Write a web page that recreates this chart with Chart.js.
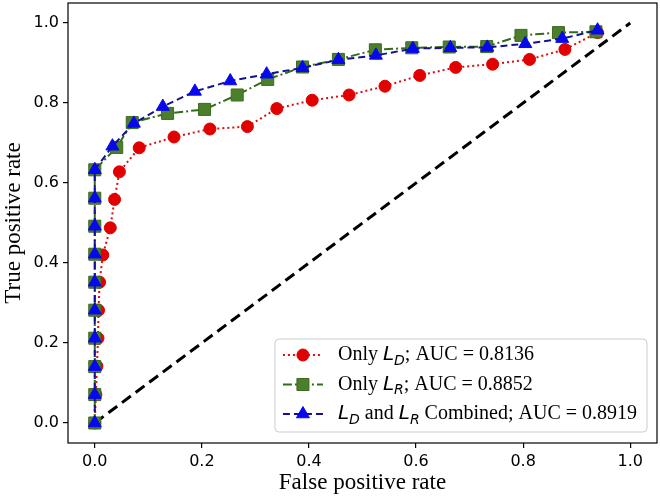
<!DOCTYPE html>
<html>
<head>
<meta charset="utf-8">
<script src="https://cdn.jsdelivr.net/npm/chart.js@4.4.0/dist/chart.umd.min.js"></script>
<style>
  html, body { margin: 0; padding: 0; background: #fff; }
  #wrap { width: 660px; height: 499px; position: relative; }
</style>
</head>
<body>
<div id="wrap"><canvas id="roc"></canvas></div>
<script>
// ================= DATA =================
const xTicks = [0.0, 0.2, 0.4, 0.6, 0.8, 1.0];
const yTicks = [0.0, 0.2, 0.4, 0.6, 0.8, 1.0];

// Only L_D
const fprD = [0, 0.002, 0.004, 0.006, 0.007, 0.009, 0.015, 0.029, 0.037, 0.046, 0.083, 0.148, 0.215, 0.285, 0.340, 0.406, 0.475, 0.542, 0.607, 0.674, 0.743, 0.812, 0.878, 0.939];
const tprD = [0, 0.071, 0.142, 0.212, 0.282, 0.352, 0.420, 0.488, 0.559, 0.628, 0.688, 0.715, 0.735, 0.741, 0.786, 0.807, 0.820, 0.842, 0.869, 0.889, 0.897, 0.909, 0.934, 0.976];

// Only L_R
const fprR = [0, 0, 0, 0, 0, 0, 0, 0, 0, 0, 0.041, 0.070, 0.136, 0.205, 0.266, 0.323, 0.388, 0.455, 0.524, 0.592, 0.662, 0.732, 0.796, 0.866, 0.936];
const tprR = [0, 0.071, 0.141, 0.212, 0.282, 0.352, 0.422, 0.492, 0.562, 0.633, 0.689, 0.751, 0.774, 0.784, 0.820, 0.859, 0.890, 0.909, 0.933, 0.938, 0.940, 0.941, 0.969, 0.976, 0.978];

// L_D and L_R combined
const fprC = [0, 0, 0, 0, 0, 0, 0, 0, 0, 0, 0.033, 0.073, 0.127, 0.187, 0.253, 0.321, 0.388, 0.455, 0.525, 0.594, 0.664, 0.733, 0.804, 0.873, 0.939];
const tprC = [0, 0.071, 0.141, 0.212, 0.282, 0.352, 0.422, 0.492, 0.562, 0.633, 0.692, 0.749, 0.791, 0.829, 0.855, 0.872, 0.888, 0.908, 0.919, 0.936, 0.938, 0.939, 0.948, 0.961, 0.982];

// chance line
const diagX = [0, 1];
const diagY = [0, 1];

const aucD = "0.8136";
const aucR = "0.8852";
const aucC = "0.8919";

// ================= HELPERS =================
function pts(xs, ys) {
    return xs.map((x, i) => ({ x: x, y: ys[i] }));
}

const SERIF = "'Liberation Serif', 'Times New Roman', serif";
const SANS = "'DejaVu Sans', sans-serif";

const datasets = [
    {
        label: "combined",
        data: pts(fprC, tprC),
        showLine: true,
        borderColor: "#12128f",
        borderWidth: 2,
        borderDash: [7, 4],
        pointStyle: "triangle",
        pointRadius: 7.5,
        pointBackgroundColor: "#0808ee",
        pointBorderColor: "#0808ee",
        pointBorderWidth: 1,
        order: 0
    },
    {
        label: "onlyR",
        data: pts(fprR, tprR),
        showLine: true,
        borderColor: "#336b1c",
        borderWidth: 2,
        borderDash: [9, 3, 2, 3],
        pointStyle: "rect",
        pointRadius: 8.5,
        pointBackgroundColor: "#4c7f2a",
        pointBorderColor: "#3d6a20",
        pointBorderWidth: 1,
        order: 1
    },
    {
        label: "onlyD",
        data: pts(fprD, tprD),
        showLine: true,
        borderColor: "#d81010",
        borderWidth: 2,
        borderDash: [2, 3],
        pointStyle: "circle",
        pointRadius: 6,
        pointBackgroundColor: "#e00000",
        pointBorderColor: "#e00000",
        pointBorderWidth: 1,
        order: 2
    },
    {
        label: "chance",
        data: pts(diagX, diagY),
        showLine: true,
        borderColor: "#000",
        borderWidth: 3,
        borderDash: [11, 6],
        pointRadius: 0,
        order: 3
    }
];

// legend rows (text pieces: serif / math italic / subscript)
const legendRows = [
    { ds: 2, parts: [["Only ", "t"], ["L", "m"], ["D", "s"], ["; AUC = " + aucD, "t"]] },
    { ds: 1, parts: [["Only ", "t"], ["L", "m"], ["R", "s"], ["; AUC = " + aucR, "t"]] },
    { ds: 0, parts: [["L", "m"], ["D", "s"], [" and ", "t"], ["L", "m"], ["R", "s"], [" Combined; AUC = " + aucC, "t"]] }
];

const partFont = {
    t: "20px " + SERIF,
    m: "italic 20px " + SANS,
    s: "italic 14px " + SANS
};

// ================= PLUGINS =================
const framePlugin = {
    id: "frame",
    afterDatasetsDraw(chart) {
        const a = chart.chartArea;
        const ctx = chart.ctx;
        ctx.save();
        ctx.strokeStyle = "#000";
        ctx.lineWidth = 1.2;
        ctx.strokeRect(a.left, a.top, a.right - a.left, a.bottom - a.top);
        ctx.restore();
    }
};

const mathLegend = {
    id: "mathLegend",
    afterDraw(chart) {
        const ctx = chart.ctx;
        const a = chart.chartArea;
        ctx.save();

        // widest row
        let maxW = 0;
        legendRows.forEach(r => {
            let w = 0;
            r.parts.forEach(p => { ctx.font = partFont[p[1]]; w += ctx.measureText(p[0]).width; });
            maxW = Math.max(maxW, w);
        });

        const rowH = 29.5;
        const boxW = 63 + maxW + 10;
        const boxH = 16 + rowH * 2 + 18;
        const bx = a.right - 10 - boxW;
        const by = a.bottom - 11 - boxH;

        // frame
        ctx.beginPath();
        ctx.roundRect(bx, by, boxW, boxH, 4);
        ctx.fillStyle = "rgba(255,255,255,0.85)";
        ctx.fill();
        ctx.strokeStyle = "#cccccc";
        ctx.lineWidth = 1;
        ctx.stroke();

        legendRows.forEach((r, i) => {
            const d = datasets[r.ds];
            const cy = by + 16 + i * rowH;

            // handle line
            ctx.save();
            ctx.strokeStyle = d.borderColor;
            ctx.lineWidth = d.borderWidth;
            ctx.setLineDash(d.borderDash);
            ctx.beginPath();
            ctx.moveTo(bx + 8, cy);
            ctx.lineTo(bx + 48, cy);
            ctx.stroke();
            ctx.restore();

            // marker
            ctx.fillStyle = d.pointBackgroundColor;
            ctx.strokeStyle = d.pointBorderColor;
            ctx.lineWidth = d.pointBorderWidth;
            Chart.helpers.drawPoint(ctx, { pointStyle: d.pointStyle, radius: d.pointRadius, borderWidth: 1 }, bx + 28, cy);

            // text
            let tx = bx + 63;
            ctx.fillStyle = "#000";
            ctx.textBaseline = "middle";
            r.parts.forEach(p => {
                ctx.font = partFont[p[1]];
                const dy = p[1] === "s" ? 6 : 0;
                ctx.fillText(p[0], tx, cy + dy);
                tx += ctx.measureText(p[0]).width;
            });
        });

        ctx.restore();
    }
};

// ================= CHART =================
function axisCfg(ticksArr, titleText, fit) {
    return {
        type: "linear",
        min: -0.05,
        max: 1.05,
        afterBuildTicks: s => { s.ticks = ticksArr.map(v => ({ value: v })); },
        afterFit: s => {
            fit(s);
            // no extra room for edge labels, the frame sits where matplotlib puts it
            s.paddingTop = 0; s.paddingBottom = 0;
            s.paddingLeft = 0; s.paddingRight = 0;
        },
        ticks: {
            color: "#000",
            font: { family: SANS, size: 16 },
            padding: 4,
            maxRotation: 0,
            autoSkip: false,
            callback: v => v.toFixed(1)
        },
        grid: {
            display: true,
            drawOnChartArea: false,
            drawTicks: true,
            tickLength: 5,
            color: "#000",
            lineWidth: 1.2
        },
        border: { display: false },
        title: {
            display: true,
            text: titleText,
            color: "#000",
            font: { family: SERIF, size: 23 },
            padding: { top: 0, bottom: 2 }
        }
    };
}

new Chart(document.getElementById("roc"), {
    type: "scatter",
    data: { datasets: datasets },
    options: {
        responsive: true,
        maintainAspectRatio: false,
        animation: false,
        layout: { autoPadding: false, padding: { left: 0, right: 3, top: 3, bottom: 0 } },
        plugins: {
            legend: { display: false },
            tooltip: { enabled: false }
        },
        scales: {
            x: axisCfg(xTicks, "False positive rate", s => { s.height = 56; }),
            y: axisCfg(yTicks, "True positive rate", s => { s.width = 68; })
        }
    },
    plugins: [framePlugin, mathLegend]
});
</script>
</body>
</html>
